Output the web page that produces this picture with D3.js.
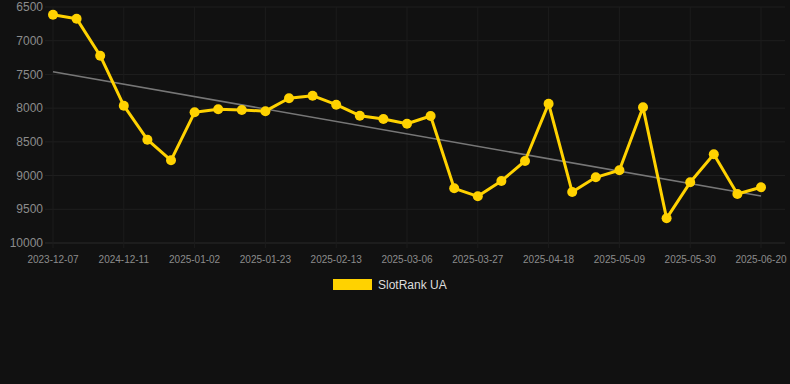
<!DOCTYPE html>
<html>
<head>
<meta charset="utf-8">
<script src="https://cdn.jsdelivr.net/npm/d3@7"></script>
<style>
  html, body { margin: 0; padding: 0; background: #111111; }
  svg { display: block; font-family: "Liberation Sans", Arial, sans-serif; }
</style>
</head>
<body>
<svg id="chart"></svg>
<script>
const dates = [
  "2023-12-07", "2024-11-27", "2024-12-04", "2024-12-11", "2024-12-18", "2024-12-25",
  "2025-01-02", "2025-01-09", "2025-01-16", "2025-01-23", "2025-01-30", "2025-02-06",
  "2025-02-13", "2025-02-20", "2025-02-27", "2025-03-06", "2025-03-13", "2025-03-20",
  "2025-03-27", "2025-04-03", "2025-04-10", "2025-04-18", "2025-04-25", "2025-05-02",
  "2025-05-09", "2025-05-16", "2025-05-23", "2025-05-30", "2025-06-06", "2025-06-13",
  "2025-06-20"
];
const ranks = [
  6614, 6673, 7222, 7964, 8468, 8774, 8062, 8017, 8027, 8045, 7854,
  7815, 7949, 8112, 8161, 8231, 8117, 9189, 9308, 9080, 8784, 7934,
  9244, 9026, 8922, 7988, 9634, 9100, 8685, 9273, 9174
];
// trend line end values
const trend = [7460, 9303];
const yTicks = [6500, 7000, 7500, 8000, 8500, 9000, 9500, 10000];
const seriesName = "SlotRank UA";

const width = 790, height = 384;
const margin = { left: 53, right: 29, top: 7, bottom: 141 };
const innerW = width - margin.left - margin.right;
const innerH = height - margin.top - margin.bottom;
const gold = "#ffd200";

const svg = d3.select("#chart").attr("width", width).attr("height", height);
const plot = svg.append("g").attr("transform", `translate(${margin.left},${margin.top})`);

const x = d3.scalePoint().domain(dates).range([0, innerW]);
const y = d3.scaleLinear().domain([6500, 10000]).range([0, innerH]);

// grid
plot.append("g")
  .selectAll("line")
  .data(yTicks)
  .join("line")
  .attr("x1", -8)
  .attr("x2", innerW + 24)
  .attr("y1", (d) => y(d))
  .attr("y2", (d) => y(d))
  .attr("stroke", (d) => (d === 10000 ? "#2a2a2a" : "#1f1f1f"))
  .attr("stroke-width", 1);

const labelled = dates.filter((d, i) => i % 3 === 0);
plot.append("g")
  .selectAll("line")
  .data(labelled)
  .join("line")
  .attr("x1", (d) => x(d))
  .attr("x2", (d) => x(d))
  .attr("y1", 0)
  .attr("y2", innerH + 5)
  .attr("stroke", "#1c1c1c")
  .attr("stroke-width", 1);

// y axis labels
plot.append("g")
  .selectAll("text")
  .data(yTicks)
  .join("text")
  .attr("x", -10)
  .attr("y", (d) => y(d))
  .attr("dy", "0.35em")
  .attr("text-anchor", "end")
  .attr("fill", "#8c8c8c")
  .attr("font-size", 12)
  .text((d) => d);

// x axis labels
plot.append("g")
  .selectAll("text")
  .data(labelled)
  .join("text")
  .attr("x", (d) => x(d))
  .attr("y", innerH + 16)
  .attr("dy", "0.35em")
  .attr("text-anchor", "middle")
  .attr("fill", "#8c8c8c")
  .attr("font-size", 10)
  .text((d) => d);

// trend line
plot.append("line")
  .attr("x1", x(dates[0]))
  .attr("x2", x(dates[dates.length - 1]))
  .attr("y1", y(trend[0]))
  .attr("y2", y(trend[1]))
  .attr("stroke", "#777777")
  .attr("stroke-width", 1.6);

// series
const line = d3.line().x((d, i) => x(dates[i])).y((d) => y(d));
plot.append("path")
  .datum(ranks)
  .attr("d", line)
  .attr("fill", "none")
  .attr("stroke", gold)
  .attr("stroke-width", 3)
  .attr("stroke-linejoin", "round");

plot.append("g")
  .selectAll("circle")
  .data(ranks)
  .join("circle")
  .attr("cx", (d, i) => x(dates[i]))
  .attr("cy", (d) => y(d))
  .attr("r", 5)
  .attr("fill", gold);

// legend
const legend = svg.append("g").attr("transform", "translate(333,279)");
legend.append("rect").attr("width", 39).attr("height", 11).attr("fill", gold);
legend.append("text")
  .attr("x", 45)
  .attr("y", 5.5)
  .attr("dy", "0.35em")
  .attr("fill", "#dddddd")
  .attr("font-size", 12)
  .text(seriesName);
</script>
</body>
</html>
